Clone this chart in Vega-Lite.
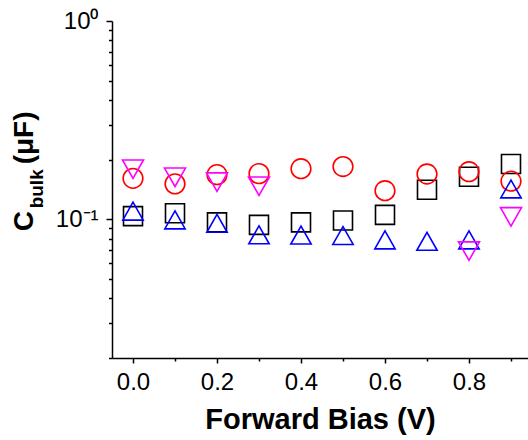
{
  "$schema": "https://vega.github.io/schema/vega-lite/v6.json",
  "width": 416,
  "height": 337,
  "autosize": {"type": "none"},
  "padding": {"left": 112, "top": 21, "right": 0, "bottom": 82},
  "background": "white",
  "config": {
    "view": {"stroke": null},
    "font": "Liberation Sans",
    "axis": {
      "grid": false,
      "domainColor": "black",
      "domainWidth": 1.5,
      "tickColor": "black",
      "tickWidth": 1.5,
      "labelColor": "black",
      "labelFont": "Liberation Sans",
      "labelFontSize": 24,
      "titleFont": "Liberation Sans",
      "titleColor": "black"
    }
  },
  "datasets": {
    "cbulk": [
      {"bias": 0.0, "c": 0.1038, "series": "s1"},
      {"bias": 0.1, "c": 0.1074, "series": "s1"},
      {"bias": 0.2, "c": 0.0966, "series": "s1"},
      {"bias": 0.3, "c": 0.0938, "series": "s1"},
      {"bias": 0.4, "c": 0.0966, "series": "s1"},
      {"bias": 0.5, "c": 0.0986, "series": "s1"},
      {"bias": 0.6, "c": 0.1053, "series": "s1"},
      {"bias": 0.7, "c": 0.141, "series": "s1"},
      {"bias": 0.8, "c": 0.164, "series": "s1"},
      {"bias": 0.9, "c": 0.19, "series": "s1"},
      {"bias": 0.0, "c": 0.161, "series": "s2"},
      {"bias": 0.1, "c": 0.151, "series": "s2"},
      {"bias": 0.2, "c": 0.168, "series": "s2"},
      {"bias": 0.3, "c": 0.17, "series": "s2"},
      {"bias": 0.4, "c": 0.18, "series": "s2"},
      {"bias": 0.5, "c": 0.1846, "series": "s2"},
      {"bias": 0.6, "c": 0.1395, "series": "s2"},
      {"bias": 0.7, "c": 0.1693, "series": "s2"},
      {"bias": 0.8, "c": 0.1739, "series": "s2"},
      {"bias": 0.9, "c": 0.1558, "series": "s2"},
      {"bias": 0.0, "c": 0.11, "series": "s3"},
      {"bias": 0.1, "c": 0.0994, "series": "s3"},
      {"bias": 0.2, "c": 0.0955, "series": "s3"},
      {"bias": 0.3, "c": 0.0836, "series": "s3"},
      {"bias": 0.4, "c": 0.0833, "series": "s3"},
      {"bias": 0.5, "c": 0.0829, "series": "s3"},
      {"bias": 0.6, "c": 0.0788, "series": "s3"},
      {"bias": 0.7, "c": 0.0775, "series": "s3"},
      {"bias": 0.8, "c": 0.0788, "series": "s3"},
      {"bias": 0.9, "c": 0.1423, "series": "s3"},
      {"bias": 0.0, "c": 0.179, "series": "s4"},
      {"bias": 0.1, "c": 0.163, "series": "s4"},
      {"bias": 0.2, "c": 0.154, "series": "s4"},
      {"bias": 0.3, "c": 0.147, "series": "s4"},
      {"bias": 0.8, "c": 0.0692, "series": "s4"},
      {"bias": 0.9, "c": 0.1029, "series": "s4"}
    ]
  },
  "layer": [
    {
      "data": {"name": "cbulk"},
      "mark": {"type": "point", "filled": false, "strokeWidth": 1.6, "opacity": 1},
      "encoding": {
        "x": {
          "field": "bias",
          "type": "quantitative",
          "scale": {"domain": [-0.05, 0.9405], "nice": false, "zero": false},
          "axis": {
            "orient": "bottom",
            "values": [0, 0.2, 0.4, 0.6, 0.8],
            "format": ".1f",
            "tickSize": 5,
            "labelPadding": 7,
            "title": "Forward Bias (V)",
            "titleFontSize": 29,
            "titleFontWeight": "bold",
            "titlePadding": 11
          }
        },
        "y": {
          "field": "c",
          "type": "quantitative",
          "scale": {"type": "log", "domain": [0.02, 1], "nice": false},
          "axis": {
            "orient": "left",
            "values": [0.1, 1],
            "labelExpr": "datum.value >= 1 ? '10⁰' : '10⁻¹'",
            "tickSize": 6,
            "labelPadding": 8,
            "title": null
          }
        },
        "shape": {
          "field": "series",
          "type": "nominal",
          "legend": null,
          "scale": {
            "domain": ["s1", "s2", "s3", "s4"],
            "range": ["square", "circle", "M-1,0.88L1,0.88L0,-0.88Z", "M-1,-0.88L1,-0.88L0,0.88Z"]
          }
        },
        "size": {
          "field": "series",
          "type": "nominal",
          "legend": null,
          "scale": {"domain": ["s1", "s2", "s3", "s4"], "range": [361, 441, 625, 625]}
        },
        "color": {
          "field": "series",
          "type": "nominal",
          "legend": null,
          "scale": {"domain": ["s1", "s2", "s3", "s4"], "range": ["#000000", "#ff0000", "#0000ff", "#ff00ff"]}
        }
      }
    },
    {
      "data": {"name": "cbulk"},
      "mark": {"type": "point", "opacity": 0},
      "encoding": {
        "x": {
          "field": "bias",
          "type": "quantitative",
          "axis": {
            "orient": "bottom",
            "values": [0.1, 0.3, 0.5, 0.7, 0.9],
            "labels": false,
            "domain": false,
            "tickSize": 3,
            "title": null
          }
        },
        "y": {
          "field": "c",
          "type": "quantitative",
          "axis": {
            "orient": "left",
            "values": [0.02, 0.03, 0.04, 0.05, 0.06, 0.07, 0.08, 0.09, 0.2, 0.3, 0.4, 0.5, 0.6, 0.7, 0.8, 0.9],
            "labels": false,
            "domain": false,
            "tickSize": 3.5,
            "title": null
          }
        }
      }
    },
    {
      "mark": {"type": "rule", "color": "black", "strokeWidth": 1.5},
      "encoding": {"y": {"datum": 1, "type": "quantitative", "axis": null}}
    },
    {
      "data": {"values": [{"label": "C"}]},
      "mark": {"type": "text", "font": "Liberation Sans", "fontSize": 28, "fontWeight": "bold", "color": "black", "angle": 270, "align": "left", "baseline": "alphabetic", "dx": -12, "dy": -79},
      "encoding": {
        "text": {"field": "label", "type": "nominal"},
        "x": {"datum": -0.05, "type": "quantitative", "axis": null},
        "y": {"datum": 0.1, "type": "quantitative", "axis": null}
      }
    },
    {
      "data": {"values": [{"label": "bulk"}]},
      "mark": {"type": "text", "font": "Liberation Sans", "fontSize": 19, "fontWeight": "bold", "color": "black", "angle": 270, "align": "left", "baseline": "alphabetic", "dx": 11, "dy": -69},
      "encoding": {
        "text": {"field": "label", "type": "nominal"},
        "x": {"datum": -0.05, "type": "quantitative", "axis": null},
        "y": {"datum": 0.1, "type": "quantitative", "axis": null}
      }
    },
    {
      "data": {"values": [{"label": "(μF)"}]},
      "mark": {"type": "text", "font": "Liberation Sans", "fontSize": 28, "fontWeight": "bold", "color": "black", "angle": 270, "align": "left", "baseline": "alphabetic", "dx": 55, "dy": -79},
      "encoding": {
        "text": {"field": "label", "type": "nominal"},
        "x": {"datum": -0.05, "type": "quantitative", "axis": null},
        "y": {"datum": 0.1, "type": "quantitative", "axis": null}
      }
    }
  ],
  "resolve": {"axis": {"x": "independent", "y": "independent"}}
}
